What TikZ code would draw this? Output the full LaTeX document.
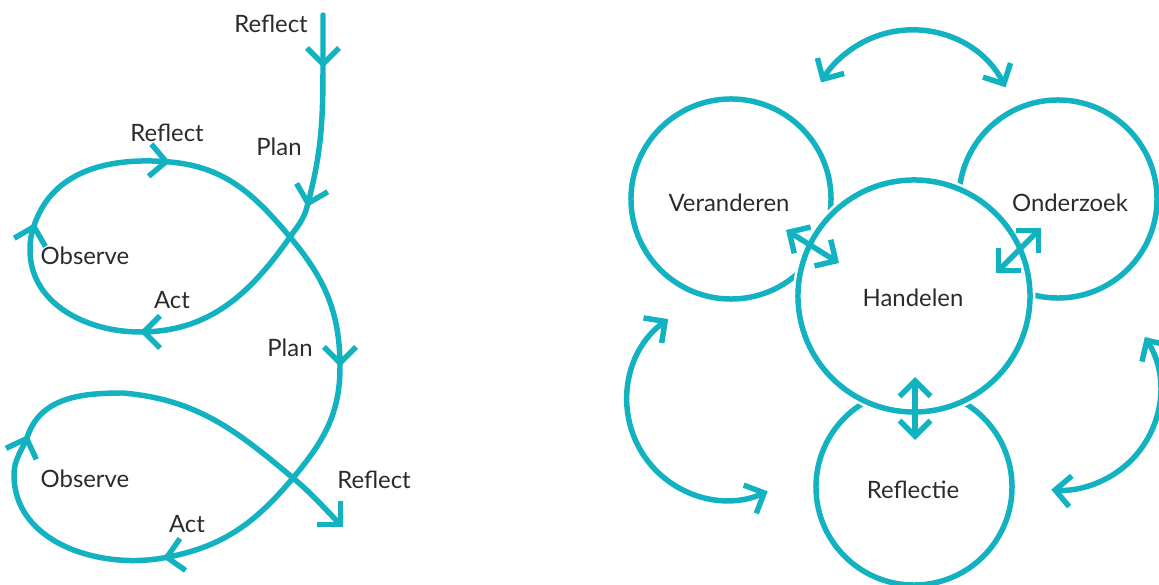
\documentclass[tikz,border=0pt]{standalone}
\usepackage{fontspec}
\setmainfont{Lato}
\usepackage{tikz}
\usetikzlibrary{arrows.meta, calc}
\definecolor{cycleteal}{HTML}{12B2C1}
\definecolor{labelgray}{HTML}{2B2B2B}

\begin{document}
\begin{tikzpicture}[
    x=0.025cm, y=0.025cm,
    flow/.style={draw=cycleteal, line width=3.9pt, line cap=round},
    arr/.style={flow, line cap=butt, -{Straight Barb[length=11.5pt, width=23pt]}},
    dblarr/.style={flow, line cap=butt, {Straight Barb[length=11pt, width=22pt]}-{Straight Barb[length=11pt, width=22pt]}},
    ring/.style={circle, draw=cycleteal, line width=3.9pt, inner sep=0pt},
    lbl/.style={font=\fontsize{17}{20}\selectfont, text=labelgray},
]
\useasboundingbox (0,0) rectangle (1159,585);

% Left: spiral of action research cycles
\coordinate (s0) at (323,570);
\coordinate (a1) at (323,517);
\coordinate (a2) at (307,378);
\coordinate (x1) at (290,348);
\coordinate (b1) at (140,253);
\coordinate (l1) at (30,335);
\coordinate (c1) at (35,362);
\coordinate (d1) at (170,423);
\coordinate (e1) at (340,218);
\coordinate (x2) at (293,107);
\coordinate (f1) at (163,27);
\coordinate (l2) at (14,110);
\coordinate (g1) at (28,150);
\coordinate (t2) at (123,192);
\coordinate (h1) at (343,58);

\draw[flow, -{Straight Barb[length=11.5pt, width=23pt]}] (s0) -- (a1)
    to[out=-90, in=75] (a2) to[out=-105, in=55] (x1)
    to[out=-125, in=0] (b1) to[out=180, in=-90] (l1)
    to[out=90, in=-110] (c1) to[out=70, in=175] (d1)
    to[out=-5, in=130] (x1) to[out=-50, in=90] (e1)
    to[out=-90, in=50] (x2) to[out=-130, in=10] (f1)
    to[out=190, in=-90] (l2) to[out=90, in=-110] (g1)
    to[out=70, in=180] (t2) to[out=-5, in=140] (x2)
    to[out=-40, in=135] (h1);

\foreach \p/\a in {a1/-90, a2/-105, b1/180, c1/75, d1/-5, e1/-90, f1/190, g1/70} {
    \draw[arr] ($(\p)+({\a+180}:6)$) -- (\p);
}

\node[lbl] (reflect0) at (271,561) {Reflect};
\node[lbl] (plan1) at (279,438) {Plan};
\node[lbl] (reflect1) at (167,452) {Reflect};
\node[lbl] (observe1) at (85,329) {Observe};
\node[lbl] (act1) at (172,285) {Act};
\node[lbl] (plan2) at (290,237) {Plan};
\node[lbl] (observe2) at (85,106) {Observe};
\node[lbl] (act2) at (187,61) {Act};
\node[lbl] (reflect2) at (374,105) {Reflect};

% Right: four linked circles
\node[ring, minimum size=5cm] (ver) at (731,386) {};
\node[ring, minimum size=4.95cm] (ond) at (1058,386) {};
\node[ring, minimum size=4.9cm] (ref) at (914,98) {};
\node[ring, minimum size=5.8cm, fill=white, preaction={draw=white, line width=7.5pt}] (han) at (914,289) {};

\node[lbl] (vertxt) at (729,382) {Veranderen};
\node[lbl] (ondtxt) at (1070,382) {Onderzoek};
\node[lbl] (hantxt) at (913,287) {Handelen};
\node[lbl] (reftxt) at (913,95) {Reflectie};

\coordinate (vh1) at (786,355);
\coordinate (vh2) at (839,322);
\coordinate (oh1) at (1041,357);
\coordinate (oh2) at (996,312);
\coordinate (hr1) at (915,208);
\coordinate (hr2) at (915,145);
\draw[dblarr] (vh1) -- (vh2);
\draw[dblarr] (oh1) -- (oh2);
\draw[dblarr] (hr1) -- (hr2);

% outer exchange arcs
\coordinate (topc) at (912,450);
\coordinate (leftc) at (727,185);
\coordinate (rightc) at (1060,195);
\draw[dblarr] ($(topc)+(27:105)$) arc[start angle=27, end angle=150, radius=105];
\draw[dblarr] ($(leftc)+(126:100)$) arc[start angle=126, end angle=294, radius=100];
\draw[dblarr] ($(rightc)+(32:100)$) arc[start angle=32, end angle=-95, radius=100];

\end{tikzpicture}
\end{document}
